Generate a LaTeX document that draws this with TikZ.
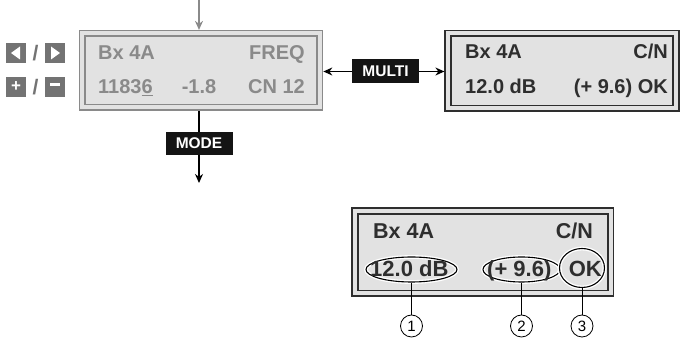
\documentclass[tikz,border=0pt]{standalone}
\usepackage{fontspec}
\setmainfont{Liberation Sans}
\usepackage{xcolor}
\usetikzlibrary{shapes.geometric, arrows.meta, positioning}

\definecolor{lcdfill}{HTML}{E2E2E2}
\definecolor{lcdgray}{HTML}{8A8A8A}
\definecolor{lcddark}{HTML}{2E2E2E}
\definecolor{keygray}{HTML}{737373}

\begin{document}
\begin{tikzpicture}[x=1pt, y=-1pt]
\tikzstyle{panel} = [rectangle, line width=1.6pt,
    double=lcdfill, double distance=4pt, fill=lcdfill,
    inner sep=0pt, outer sep=3.6pt]
\tikzstyle{dimtext} = [inner sep=0pt, text=lcdgray,
    font=\fontsize{20}{24}\selectfont\bfseries]
\tikzstyle{lcdtext} = [inner sep=0pt, text=lcddark,
    font=\fontsize{20}{24}\selectfont\bfseries]
\tikzstyle{bigtext} = [inner sep=0pt, text=lcddark,
    font=\fontsize{22}{26}\selectfont\bfseries]
\tikzstyle{keybox} = [rectangle, fill=keygray, minimum size=20pt,
    inner sep=0pt, text=white, font=\fontsize{17}{20}\selectfont\bfseries]
\tikzstyle{slash} = [inner sep=0pt, text=keygray,
    font=\fontsize{21}{24}\selectfont\bfseries]
\tikzstyle{tag} = [rectangle, fill=black!92, text=white,
    minimum width=67pt, minimum height=24pt, inner sep=0pt,
    font=\fontsize{15.5}{18}\selectfont\bfseries]
\tikzstyle{arrow} = [line width=1.4pt, -{Stealth[length=9pt,width=8pt]}]
\tikzstyle{ring} = [ellipse, draw=black, line width=1.1pt,
    preaction={draw=white, line width=3.8pt}, inner sep=0pt]
\tikzstyle{callout} = [circle, draw=black, line width=0.8pt,
    minimum size=22pt, inner sep=0pt, font=\fontsize{15}{17}\selectfont]

\useasboundingbox (0,0) rectangle (681,344);

% --- display panels ---
\node (freq) [panel, draw=lcdgray, minimum width=237.5pt, minimum height=74pt]
    at (201,70.5) {};
\node (cn) [panel, draw=lcddark, minimum width=228pt, minimum height=75pt]
    at (562,71) {};
\node (detail) [panel, draw=lcddark, minimum width=255.5pt, minimum height=82.5pt]
    at (482.75,252.25) {};

% --- marks on the detail panel ---
\node (ringA) [ring, minimum width=91pt, minimum height=25pt] at (411.5,269.5) {};
\node (ringB) [ring, minimum width=77pt, minimum height=25pt] at (521.5,269.5) {};
\node (ringC) [ring, minimum width=45pt, minimum height=39pt] at (582,268) {};

% --- texts of the panels ---
\node (freqA) [dimtext, anchor=base west] at (98,60) {Bx 4A};
\node (freqB) [dimtext, anchor=base east] at (305,60) {FREQ};
\node (freqC) [dimtext, anchor=base west] at (98,94) {1183\underline{6}};
\node (freqD) [dimtext, anchor=base] at (199,94) {-1.8};
\node (freqE) [dimtext, anchor=base east] at (305,94) {CN 12};

\node (cnA) [lcdtext, anchor=base west] at (465,59) {Bx 4A};
\node (cnB) [lcdtext, anchor=base east] at (668,59) {C/N};
\node (cnC) [lcdtext, anchor=base west] at (465,94) {12.0 dB};
\node (cnD) [lcdtext, anchor=base east] at (668,94) {(+ 9.6) OK};

\node (detA) [lcdtext, anchor=base west, font=\fontsize{21.5}{26}\selectfont\bfseries]
    at (373,239) {Bx 4A};
\node (detB) [lcdtext, anchor=base east, font=\fontsize{21.5}{26}\selectfont\bfseries]
    at (593,239) {C/N};
\node (detC) [bigtext, anchor=base west] at (370,277) {12.0 dB};
\node (detD) [bigtext, anchor=base west] at (487,277) {(+ 9.6)};
\node (detE) [bigtext, anchor=base east] at (602,277) {OK};

% --- keys ---
\node (left) [keybox] at (16,53) {};
\node (slashA) [slash] at (35.5,53) {/};
\node (right) [keybox] at (55,53) {};
\node (plus) [keybox] at (16,87) {+};
\node (slashB) [slash] at (35.5,87) {/};
\node (minus) [keybox] at (55,87) {\rule[0.5ex]{10pt}{2.6pt}};
\fill [white] ([xshift=-5pt]left.center) -- ([xshift=4pt,yshift=6.5pt]left.center)
    -- ([xshift=4pt,yshift=-6.5pt]left.center) -- cycle;
\fill [white] ([xshift=5pt]right.center) -- ([xshift=-4pt,yshift=6.5pt]right.center)
    -- ([xshift=-4pt,yshift=-6.5pt]right.center) -- cycle;

% --- buttons and arrows ---
\coordinate (feed) at (199,0);
\coordinate (out) at (199,183);
\node (multi) [tag] at (385.5,71.5) {MULTI};
\node (mode) [tag, minimum height=23pt] at (199,143.5) {MODE};

\draw [arrow, draw=lcdgray] (feed) -- (feed |- freq.north);
\draw [arrow] (multi.west) -- (multi.west -| freq.east);
\draw [arrow] (multi.east) -- (multi.east -| cn.west);
\draw [line width=1.4pt] (mode.north |- freq.south) -- (mode.north);
\draw [arrow] (mode) -- (out);

% --- callout numbers ---
\node (numA) [callout] at (411.5,326) {1};
\node (numB) [callout] at (521.5,326) {2};
\node (numC) [callout] at (582,326) {3};
\draw [line width=1pt] (ringA) -- (numA);
\draw [line width=1pt] (ringB) -- (numB);
\draw [line width=1pt] (ringC) -- (numC);
\end{tikzpicture}
\end{document}
